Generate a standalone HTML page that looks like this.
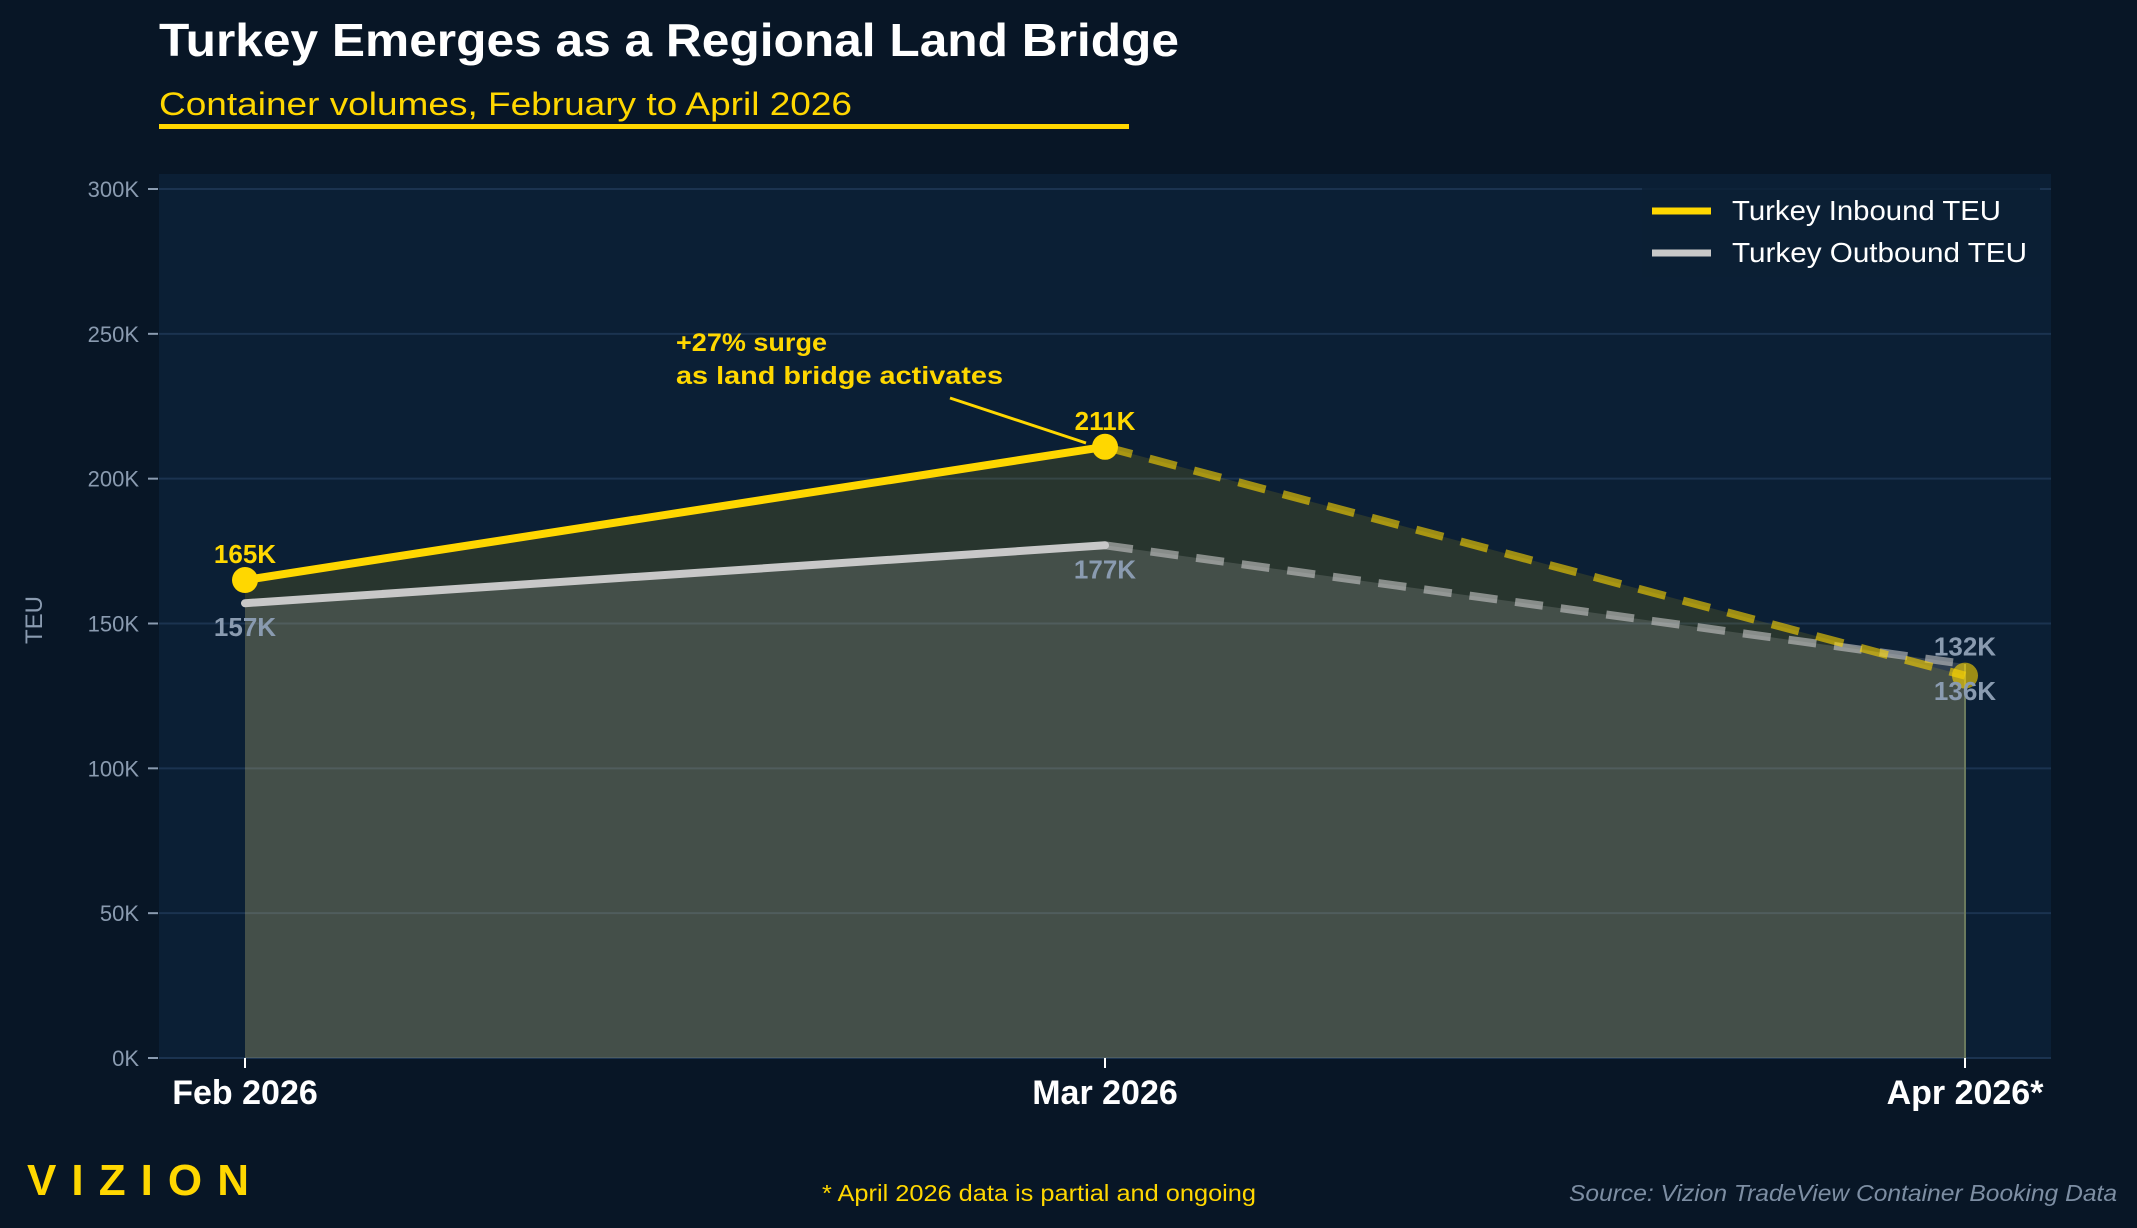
<!DOCTYPE html>
<html><head><meta charset="utf-8"><style>
html,body{margin:0;padding:0;background:#081626;}
svg{display:block;font-family:"Liberation Sans",sans-serif;}
</style></head><body>
<svg id="chart" width="2137" height="1228" viewBox="0 0 2137 1228" xmlns="http://www.w3.org/2000/svg">
<rect x="0" y="0" width="2137" height="1228" fill="#081626"/>
<text x="159" y="56" font-size="46" font-weight="bold" fill="#ffffff" textLength="1020" lengthAdjust="spacingAndGlyphs">Turkey Emerges as a Regional Land Bridge</text>
<text x="159" y="115" font-size="32" fill="#FFD700" textLength="693" lengthAdjust="spacingAndGlyphs">Container volumes, February to April 2026</text>
<rect x="159" y="124" width="970" height="5" fill="#FFD700"/>
<rect x="159" y="174" width="1892" height="884" fill="#0b1f35"/>
<g id="grid"></g>
<g id="areas"></g>
<g id="lines"></g>
<g id="labels"></g>
<text transform="translate(42,620) rotate(-90)" text-anchor="middle" font-size="24" fill="#8a9bb0">TEU</text>
<text x="676" y="351" font-size="25" font-weight="bold" fill="#FFD700" textLength="151" lengthAdjust="spacingAndGlyphs">+27% surge</text>
<text x="676" y="384" font-size="25" font-weight="bold" fill="#FFD700" textLength="327" lengthAdjust="spacingAndGlyphs">as land bridge activates</text>
<line x1="950" y1="398" x2="1086" y2="443" stroke="#FFD700" stroke-width="3"/>
<g>
<rect x="1642" y="188" width="398" height="89" fill="#0b1f35" opacity="0.8"/>
<line x1="1652" y1="211" x2="1711" y2="211" stroke="#FFD700" stroke-width="7"/>
<text x="1732" y="220" font-size="28" fill="#ffffff" textLength="269" lengthAdjust="spacingAndGlyphs">Turkey Inbound TEU</text>
<line x1="1652" y1="253" x2="1711" y2="253" stroke="#c8c8c8" stroke-width="7"/>
<text x="1732" y="262" font-size="28" fill="#ffffff" textLength="295" lengthAdjust="spacingAndGlyphs">Turkey Outbound TEU</text>
</g>
<text x="27" y="1195" font-size="44" font-weight="bold" fill="#FFD700" textLength="222" lengthAdjust="spacing">VIZION</text>
<text x="1039" y="1201" text-anchor="middle" font-size="23" fill="#FFD700" textLength="434" lengthAdjust="spacingAndGlyphs">* April 2026 data is partial and ongoing</text>
<text x="2117" y="1201" text-anchor="end" font-size="23" font-style="italic" fill="#7d8ea3" textLength="548" lengthAdjust="spacingAndGlyphs">Source: Vizion TradeView Container Booking Data</text>
</svg>
<script>
const categories = ["Feb 2026", "Mar 2026", "Apr 2026*"];
const inbound = [165, 211, 132];
const outbound = [157, 177, 136];
const yTicks = [0, 50, 100, 150, 200, 250, 300];
const yTickLabels = ["0K", "50K", "100K", "150K", "200K", "250K", "300K"];

const NS = "http://www.w3.org/2000/svg";
const X0 = 245, X1 = 1965, Y0 = 1058, Y300 = 189;
function xs(i){ return X0 + (X1 - X0) * i / (categories.length - 1); }
function ys(v){ return Y0 - (Y0 - Y300) * v / 300; }
function mk(tag, attrs, parent){ const e = document.createElementNS(NS, tag); for (const k in attrs) e.setAttribute(k, attrs[k]); parent.appendChild(e); return e; }

const grid = document.getElementById('grid');
yTicks.forEach((t, i) => {
  const y = ys(t);
  const g = mk('line', {x1:159, x2:2051, y1:y, y2:y, stroke:'#1b3350', 'stroke-width':2}, grid);
  
  
  const tk = mk('line', {x1:148, x2:158, y1:y, y2:y, stroke:'#8a9bb0', 'stroke-width':2}, grid);
  
  
  const tx = mk('text', {x:139, y:y + 8, 'text-anchor':'end', 'font-size':22, fill:'#8a9bb0'}, grid);
  tx.textContent = yTickLabels[i];
  
  
});
categories.forEach((c, i) => {
  const x = xs(i);
  const tk = mk('line', {x1:x, x2:x, y1:1058, y2:1068, stroke:'#ffffff', 'stroke-width':2}, grid);
  
  
  const tx = mk('text', {x:x, y:1104, 'text-anchor':'middle', 'font-size':34, 'font-weight':'bold', fill:'#ffffff'}, grid);
  tx.textContent = c;
  
  
});

const areas = document.getElementById('areas');
function areaPath(arr){
  let d = 'M' + xs(0) + ',' + Y0;
  arr.forEach((v, i) => { d += ' L' + xs(i) + ',' + ys(v); });
  d += ' L' + xs(arr.length - 1) + ',' + Y0 + ' Z';
  return d;
}
const aIn = mk('path', {d:areaPath(inbound), fill:'#FFD700', 'fill-opacity':0.12}, areas);


const aOut = mk('path', {d:areaPath(outbound), fill:'#c8c8c8', 'fill-opacity':0.18}, areas);


const edge = mk('line', {x1:xs(2), x2:xs(2), y1:ys(Math.max(inbound[2], outbound[2])), y2:Y0, stroke:'#6b7a5e', 'stroke-width':2}, areas);



const lines = document.getElementById('lines');
function series(arr, color, name){
  const s = mk('line', {x1:xs(0), y1:ys(arr[0]), x2:xs(1), y2:ys(arr[1]), stroke:color, 'stroke-width':8, 'stroke-linecap':'round'}, lines);
  
  
  const d = mk('line', {x1:xs(1), y1:ys(arr[1]), x2:xs(2), y2:ys(arr[2]), stroke:color, 'stroke-width':8, 'stroke-dasharray':'28 18', opacity:0.6}, lines);
  
  
}
series(outbound, '#c8c8c8', 'outbound');
series(inbound, '#FFD700', 'inbound');
inbound.forEach((v, i) => {
  const c = mk('circle', {cx:xs(i), cy:ys(v), r:13, fill:'#FFD700', opacity: i === 2 ? 0.6 : 1}, lines);
  
  
});

const labels = document.getElementById('labels');
const inOff = [-17, -17, -20];
const outOff = [33, 33, 36];
inbound.forEach((v, i) => {
  const t = mk('text', {x:xs(i), y:ys(v) + inOff[i], 'text-anchor':'middle', 'font-size':26, 'font-weight':'bold', fill: i === 2 ? '#8a9bb0' : '#FFD700'}, labels);
  t.textContent = v + 'K';
  
  
});
outbound.forEach((v, i) => {
  const t = mk('text', {x:xs(i), y:ys(v) + outOff[i], 'text-anchor':'middle', 'font-size':26, 'font-weight':'bold', fill:'#8a9bb0'}, labels);
  t.textContent = v + 'K';
  
  
});
</script>
</body></html>
